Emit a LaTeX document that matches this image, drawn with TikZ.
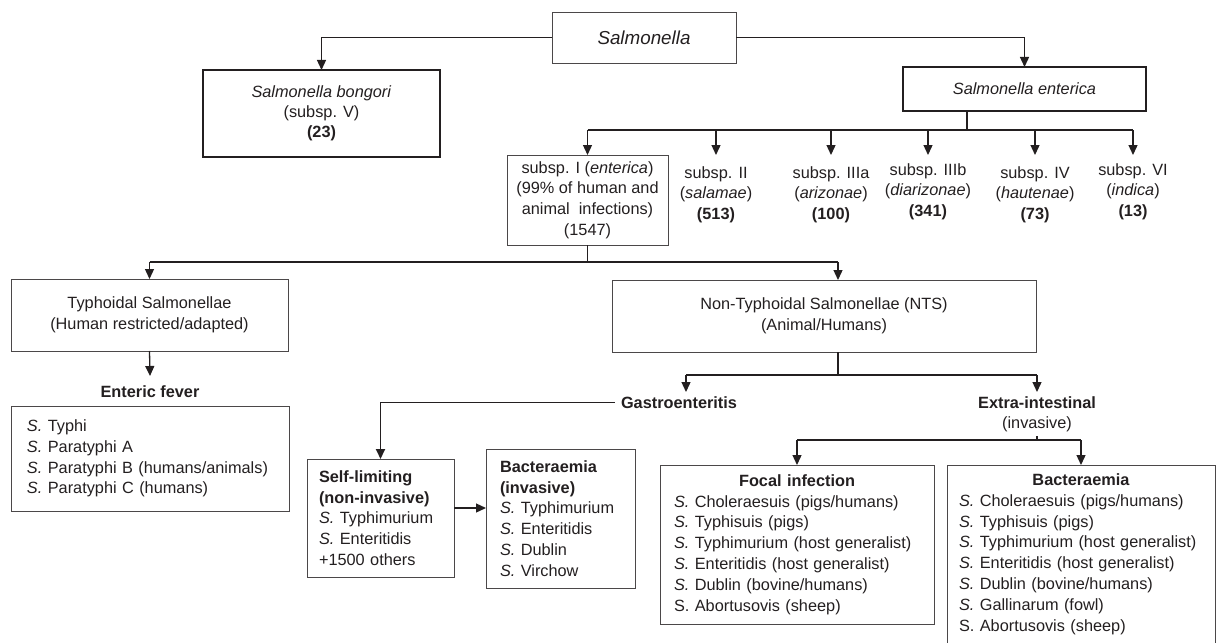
\documentclass[tikz,border=0pt]{standalone}
\usepackage{fontspec}
\setmainfont{Liberation Sans}
\usetikzlibrary{arrows.meta}
\definecolor{ln}{RGB}{35,31,32}
\definecolor{bx}{RGB}{75,72,73}
\begin{document}
\begin{tikzpicture}[x=1pt,y=-1pt,
  every node/.style={font=\fontsize{16.3}{20.8}\selectfont, text=ln},
  box/.style={draw=bx, line width=0.9pt, inner sep=0pt, outer sep=0pt, align=center, anchor=north west},
  thickbox/.style={box, draw=ln, line width=2.5pt},
  listbox/.style={box, align=left},
  lbl/.style={inner xsep=0pt, align=center, anchor=north},
  arr/.style={draw=ln, line width=1.3pt, -{Triangle[length=10pt,width=9pt]}},
  conn/.style={draw=ln, line width=1.3pt}]
\useasboundingbox (0,0) rectangle (1217,642);

% top level
\node[box, minimum width=184pt, minimum height=51pt, font=\fontsize{18.8}{22}\selectfont\itshape] (sal) at (552,12) {Salmonella};
\node[thickbox, minimum width=237pt, minimum height=87pt, font=\fontsize{16.3}{20}\selectfont] (bon) at (203,70)
  {\textit{Salmonella bongori}\\(subsp. V)\\\textbf{(23)}};
\node[thickbox, minimum width=243pt, minimum height=44pt] (ent) at (903,67) {\textit{Salmonella enterica}};

% subspecies
\node[box, minimum width=161pt, minimum height=90pt] (s1) at (507,155)
  {subsp. I (\textit{enterica})\\(99\% of human and\\animal\ \ infections)\\(1547)};
\node[lbl, inner ysep=11pt] (s2) at (716,155) {subsp. II\\(\textit{salamae})\\\textbf{(513)}};
\node[lbl, inner ysep=11pt] (s3) at (831,155) {subsp. IIIa\\(\textit{arizonae})\\\textbf{(100)}};
\node[lbl, inner ysep=8pt] (s4) at (928,155) {subsp. IIIb\\(\textit{diarizonae})\\\textbf{(341)}};
\node[lbl, inner ysep=11pt] (s5) at (1035,155) {subsp. IV\\(\textit{hautenae})\\\textbf{(73)}};
\node[lbl, inner ysep=8pt] (s6) at (1133,155) {subsp. VI\\(\textit{indica})\\\textbf{(13)}};

% typhoidal / NTS
\node[box, minimum width=277pt, minimum height=72pt] (typh) at (11,279)
  {Typhoidal Salmonellae\\(Human restricted/adapted)};
\node[box, minimum width=424pt, minimum height=72pt] (nts) at (612,280)
  {Non-Typhoidal Salmonellae (NTS)\\(Animal/Humans)};
\node[lbl, inner ysep=9pt] (ef) at (150,376) {\textbf{Enteric fever}};
\node[listbox, text width=246pt, inner xsep=16pt, minimum height=105pt] (entbox) at (11,406)
  {\textit{S.} Typhi\\\textit{S.} Paratyphi A\\\textit{S.} Paratyphi B (humans/animals)\\\textit{S.} Paratyphi C (humans)};

% gastroenteritis / extra-intestinal
\node[lbl, inner xsep=6pt, inner ysep=4pt] (gas) at (679,392) {\textbf{Gastroenteritis}};
\node[lbl, inner xsep=0pt, inner ysep=4pt] (ext) at (1037,392) {\textbf{Extra-intestinal}\\(invasive)};

\node[listbox, text width=123pt, inner xsep=12pt, minimum height=118pt] (self) at (307,459)
  {\textbf{Self-limiting}\\\textbf{(non-invasive)}\\\textit{S.} Typhimurium\\\textit{S.} Enteritidis\\+1500 others};
\node[listbox, text width=121pt, inner xsep=14pt, minimum height=139pt] (bact1) at (486,449)
  {\textbf{Bacteraemia}\\\textbf{(invasive)}\\\textit{S.} Typhimurium\\\textit{S.} Enteritidis\\\textit{S.} Dublin\\\textit{S.} Virchow};
\node[listbox, text width=246pt, inner xsep=14pt, minimum height=159pt] (focal) at (660,465)
  {\hbox to \hsize{\hss\textbf{Focal infection}\hss}\\
   \textit{S.} Choleraesuis (pigs/humans)\\\textit{S.} Typhisuis (pigs)\\
   \textit{S.} Typhimurium (host generalist)\\\textit{S.} Enteritidis (host generalist)\\
   \textit{S.} Dublin (bovine/humans)\\S. Abortusovis (sheep)};
\node[listbox, text width=244pt, inner xsep=12pt, minimum height=178pt] (bact2) at (947,465)
  {\hbox to \hsize{\hss\textbf{Bacteraemia}\hss}\\
   \textit{S.} Choleraesuis (pigs/humans)\\\textit{S.} Typhisuis (pigs)\\
   \textit{S.} Typhimurium (host generalist)\\\textit{S.} Enteritidis (host generalist)\\
   \textit{S.} Dublin (bovine/humans)\\\textit{S.} Gallinarum (fowl)\\S. Abortusovis (sheep)};

% connectors
\draw[arr] (sal.west) -| (bon.north);
\draw[arr] (sal.east) -| (ent.north);

\coordinate (b1) at (967,130);
\draw[conn] (ent.south -| b1) -- (b1);
\draw[conn] (s1.north |- b1) -- (s6.north |- b1);
\foreach \n in {s1,s2,s3,s4,s5,s6} \draw[arr] (\n.north |- b1) -- (\n.north);

\coordinate (b2) at (588,262);
\coordinate (ntsin) at (838,280);
\draw[conn] (s1.south) -- (s1.south |- b2);
\draw[conn] (typh.north |- b2) -- (ntsin |- b2);
\draw[arr] (typh.north |- b2) -- (typh.north);
\draw[arr] (ntsin |- b2) -- (ntsin);
\draw[arr] (typh.south) -- (ef.north);

\coordinate (b3) at (838,375);
\coordinate (gasin) at (686,392);
\draw[conn] (nts.south -| b3) -- (b3);
\draw[conn] (gasin |- b3) -- (ext.north |- b3);
\draw[arr] (gasin |- b3) -- (gasin);
\draw[arr] (ext.north |- b3) -- (ext.north);

\draw[conn, line width=1pt] (gas.west) -- (gas.west -| self.north);
\draw[arr, line width=1.8pt] (gas.west -| self.north) -- (self.north);
\draw[arr] ([yshift=10pt]self.east) -- ([yshift=10pt]self.east -| bact1.west);

\coordinate (b4) at (1037,440);
\draw[conn] (ext.south) -- (ext.south |- b4);
\draw[conn] (focal.north |- b4) -- (bact2.north |- b4);
\draw[arr] (focal.north |- b4) -- (focal.north);
\draw[arr] (bact2.north |- b4) -- (bact2.north);
\end{tikzpicture}
\end{document}
